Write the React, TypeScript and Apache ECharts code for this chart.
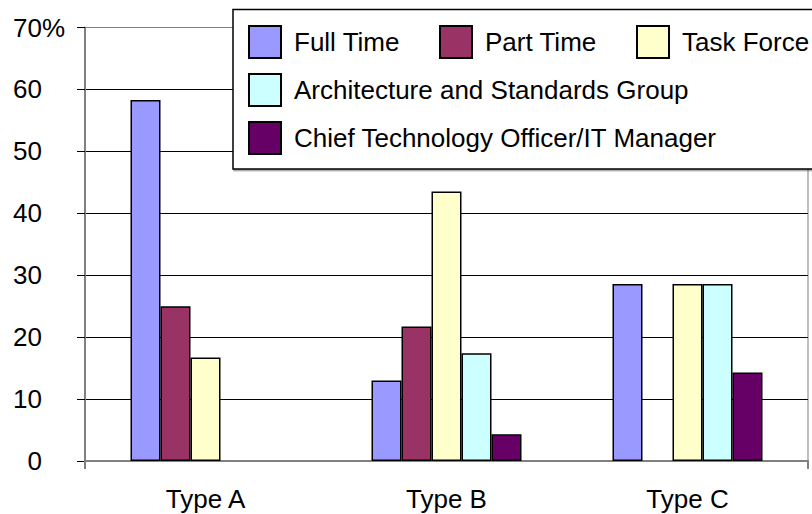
import React, { useEffect, useRef } from "react";
import * as echarts from "echarts";

// Share of respondents per organisation type, in percent
const categories = ["Type A", "Type B", "Type C"];
const seriesNames = [
  "Full Time",
  "Part Time",
  "Task Force",
  "Architecture and Standards Group",
  "Chief Technology Officer/IT Manager",
];
const fullTime = [58.3, 13.0, 28.6];
const partTime = [25.0, 21.7, null];
const taskForce = [16.7, 43.5, 28.6];
const archGroup = [null, 17.4, 28.6];
const ctoManager = [null, 4.3, 14.3];
const seriesColors = ["#9999FF", "#993366", "#FFFFCC", "#CCFFFF", "#660066"];
const yMax = 70;
const yStep = 10;

const FONT = "'Liberation Sans', Arial, sans-serif";

// Legend entry placement: three on the first row, then one per row
const legendSlots = [
  { left: 248, top: 25 },
  { left: 439, top: 25 },
  { left: 636, top: 25 },
  { left: 248, top: 73 },
  { left: 248, top: 121 },
];

export default function App() {
  const ref = useRef<HTMLDivElement>(null);

  useEffect(() => {
    if (!ref.current) return;
    const chart = echarts.init(ref.current, null, { renderer: "svg" });
    const values = [fullTime, partTime, taskForce, archGroup, ctoManager];

    const legends = seriesNames.map((name, i) => ({
      left: legendSlots[i].left,
      top: legendSlots[i].top,
      orient: "horizontal",
      padding: 0,
      itemWidth: 32,
      itemHeight: 32,
      icon: "rect",
      selectedMode: false,
      z: 10,
      data: [name],
      textStyle: {
        fontSize: 26,
        color: "#000",
        fontFamily: FONT,
        padding: [0, 0, 0, 8],
      },
    }));

    chart.setOption({
      animation: false,
      textStyle: { fontFamily: FONT },
      grid: {
        left: 85,
        right: 4,
        top: 27.5,
        bottom: 53,
        show: true,
        borderColor: "#808080",
        borderWidth: 1,
      },
      legend: legends,
      graphic: [
        {
          type: "rect",
          z: 5,
          shape: { x: 233, y: 9.5, width: 640, height: 159.5 },
          style: {
            fill: "#fff",
            stroke: "#000",
            lineWidth: 1.5,
            shadowColor: "rgba(0,0,0,0.35)",
            shadowOffsetX: 1,
            shadowOffsetY: 1.5,
          },
        },
      ],
      xAxis: {
        type: "category",
        data: categories,
        axisLine: { lineStyle: { color: "#808080", width: 2 } },
        axisTick: {
          show: true,
          length: 8,
          interval: (i: number) => i === 0,
          lineStyle: { color: "#808080", width: 2 },
        },
        axisLabel: {
          fontSize: 26,
          color: "#000",
          margin: 25,
          fontFamily: FONT,
        },
      },
      yAxis: {
        type: "value",
        min: 0,
        max: yMax,
        interval: yStep,
        axisLine: { show: true, lineStyle: { color: "#808080", width: 2 } },
        axisTick: { show: true, length: 8, lineStyle: { color: "#000", width: 1 } },
        splitLine: {
          show: true,
          lineStyle: {
            color: ["#808080", "#000", "#000", "#000", "#000", "#000", "#000", "#808080"],
            width: 1,
          },
        },
        axisLabel: {
          fontSize: 26,
          color: "#000",
          margin: 43,
          fontFamily: FONT,
          // the percent sign on the top label hangs past the column of numbers
          formatter: (v: number) => (v === yMax ? "{top|" + v + "%}" : String(v)),
          rich: {
            top: { fontSize: 26, color: "#000", fontFamily: FONT, width: 29, align: "left" },
          },
        },
      },
      series: seriesNames.map((name, i) => ({
        name,
        type: "bar",
        data: values[i],
        barWidth: 30,
        barGap: "0%",
        itemStyle: {
          color: seriesColors[i],
          borderColor: "#000",
          borderWidth: 1.5,
        },
      })),
    });

    return () => chart.dispose();
  }, []);

  return (
    <div
      ref={ref}
      style={{ position: "fixed", left: 0, top: 0, width: 812, height: 514, background: "#fff" }}
    />
  );
}
